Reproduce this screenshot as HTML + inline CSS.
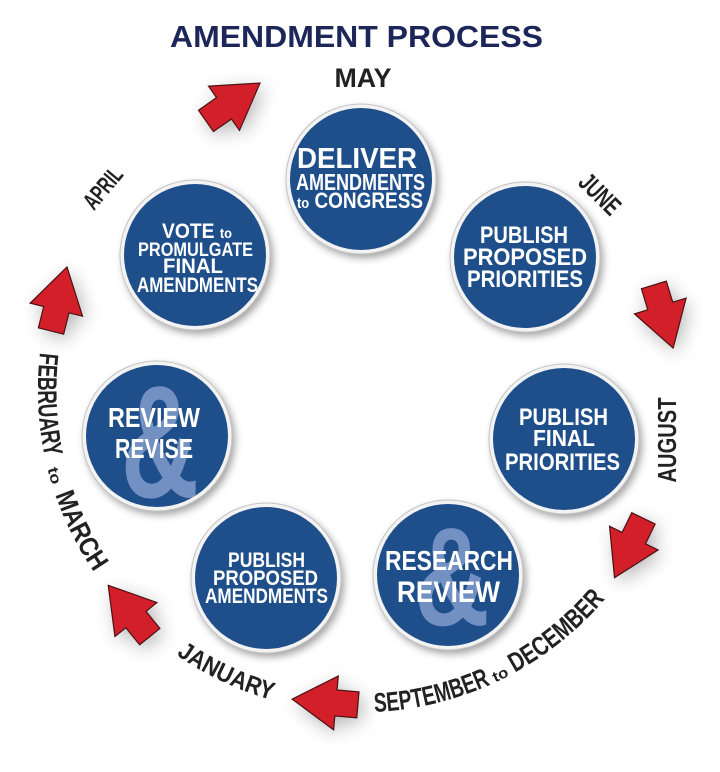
<!DOCTYPE html>
<html><head><meta charset="utf-8"><style>
html,body{margin:0;padding:0;background:#fff;}
svg{display:block;}
text{font-family:"Liberation Sans",sans-serif;font-weight:bold;}
</style></head><body>
<svg width="720" height="772" viewBox="0 0 720 772" xmlns="http://www.w3.org/2000/svg">
<defs>
  <filter id="ash" x="-100%" y="-100%" width="300%" height="300%"><feGaussianBlur stdDeviation="9"/></filter>
  <filter id="csh" x="-30%" y="-30%" width="160%" height="160%"><feGaussianBlur stdDeviation="4"/></filter>
  <path id="arc" d="M68.2,253.9 A322,322 0 1 0 671.0,473.3" fill="none"/>
  <path id="arr" d="M0,-33 L27,11 L13,11 L13,33 L-13,33 L-13,11 L-27,11 Z"/>
  <clipPath id="clipA"><circle cx="157" cy="436" r="71"/></clipPath>
  <clipPath id="clipB"><circle cx="448" cy="575" r="71"/></clipPath>
</defs>
<rect width="720" height="772" fill="#fff"/>

<!-- Title -->
<text x="356.5" y="47" font-size="31" fill="#1c2659" text-anchor="middle" textLength="373" lengthAdjust="spacingAndGlyphs">AMENDMENT PROCESS</text>

<!-- Arrow shadows -->
<g fill="#7a7a7a" opacity="0.55" filter="url(#ash)">
  <use href="#arr" transform="translate(237,107) rotate(55)"/>
  <use href="#arr" transform="translate(63,304) rotate(14)"/>
  <use href="#arr" transform="translate(133,616) rotate(-39)"/>
  <use href="#arr" transform="translate(329,707) rotate(-85)"/>
  <use href="#arr" transform="translate(633,553) rotate(-154)"/>
  <use href="#arr" transform="translate(667,321) rotate(163)"/>
</g>

<!-- Circle shadows -->
<g fill="#555" opacity="0.55" filter="url(#csh)">
  <circle cx="364" cy="183" r="75"/>
  <circle cx="198" cy="259" r="75"/>
  <circle cx="160" cy="440" r="75"/>
  <circle cx="269" cy="582" r="75"/>
  <circle cx="451" cy="579" r="75"/>
  <circle cx="567" cy="443" r="75"/>
  <circle cx="528" cy="261" r="75"/>
</g>

<!-- Circles -->
<g stroke="#c4c4c4" stroke-width="1" fill="#f3f3f3">
  <circle cx="361" cy="179" r="75"/>
  <circle cx="195" cy="255" r="75"/>
  <circle cx="157" cy="436" r="75"/>
  <circle cx="266" cy="578" r="75"/>
  <circle cx="448" cy="575" r="75"/>
  <circle cx="564" cy="439" r="75"/>
  <circle cx="525" cy="257" r="75"/>
</g>
<g fill="#1f4f8b">
  <circle cx="361" cy="179" r="71"/>
  <circle cx="195" cy="255" r="71"/>
  <circle cx="157" cy="436" r="71"/>
  <circle cx="266" cy="578" r="71"/>
  <circle cx="448" cy="575" r="71"/>
  <circle cx="564" cy="439" r="71"/>
  <circle cx="525" cy="257" r="71"/>
</g>

<!-- Ampersand watermarks -->
<g clip-path="url(#clipA)"><text x="160" y="497" font-size="160" fill="#7390c2" text-anchor="middle" textLength="78" lengthAdjust="spacingAndGlyphs">&amp;</text></g>
<g clip-path="url(#clipB)"><text x="452" y="625" font-size="140" fill="#7390c2" text-anchor="middle" textLength="75" lengthAdjust="spacingAndGlyphs">&amp;</text></g>

<!-- Circle labels -->
<g fill="#ffffff" text-anchor="middle">
  <text x="357" y="168" font-size="29" textLength="120" lengthAdjust="spacingAndGlyphs">DELIVER</text>
  <text x="360.5" y="190" font-size="23" textLength="129" lengthAdjust="spacingAndGlyphs">AMENDMENTS</text>
  <text x="360" y="208" font-size="22" textLength="126" lengthAdjust="spacingAndGlyphs"><tspan font-size="15">to</tspan> CONGRESS</text>

  <text x="197" y="238" font-size="21" textLength="70" lengthAdjust="spacingAndGlyphs">VOTE <tspan font-size="14">to</tspan></text>
  <text x="195.5" y="256" font-size="19" textLength="115" lengthAdjust="spacingAndGlyphs">PROMULGATE</text>
  <text x="193" y="273" font-size="21" textLength="60" lengthAdjust="spacingAndGlyphs">FINAL</text>
  <text x="197.5" y="292" font-size="21" textLength="121" lengthAdjust="spacingAndGlyphs">AMENDMENTS</text>

  <text x="154" y="427" font-size="28" textLength="92" lengthAdjust="spacingAndGlyphs">REVIEW</text>
  <text x="154" y="458" font-size="28" textLength="78" lengthAdjust="spacingAndGlyphs">REVISE</text>

  <text x="266.5" y="567" font-size="21" textLength="77" lengthAdjust="spacingAndGlyphs">PUBLISH</text>
  <text x="265.5" y="585" font-size="21" textLength="105" lengthAdjust="spacingAndGlyphs">PROPOSED</text>
  <text x="266.5" y="603" font-size="21" textLength="123" lengthAdjust="spacingAndGlyphs">AMENDMENTS</text>

  <text x="449" y="570" font-size="28" textLength="128" lengthAdjust="spacingAndGlyphs">RESEARCH</text>
  <text x="448.5" y="602" font-size="30" textLength="103" lengthAdjust="spacingAndGlyphs">REVIEW</text>

  <text x="563.5" y="425" font-size="24" textLength="89" lengthAdjust="spacingAndGlyphs">PUBLISH</text>
  <text x="564" y="446" font-size="23" textLength="62" lengthAdjust="spacingAndGlyphs">FINAL</text>
  <text x="562.5" y="470" font-size="24" textLength="115" lengthAdjust="spacingAndGlyphs">PRIORITIES</text>

  <text x="524" y="243" font-size="24" textLength="88" lengthAdjust="spacingAndGlyphs">PUBLISH</text>
  <text x="525" y="265" font-size="24" textLength="124" lengthAdjust="spacingAndGlyphs">PROPOSED</text>
  <text x="525" y="287" font-size="24" textLength="116" lengthAdjust="spacingAndGlyphs">PRIORITIES</text>
</g>

<!-- Arrows -->
<g fill="#d21f29" stroke="#4a1212" stroke-width="1.2" stroke-linejoin="miter">
  <use href="#arr" transform="translate(233,102) rotate(55)"/>
  <use href="#arr" transform="translate(59,299) rotate(14)"/>
  <use href="#arr" transform="translate(129,611) rotate(-39)"/>
  <use href="#arr" transform="translate(325,702) rotate(-85)"/>
  <use href="#arr" transform="translate(629,548) rotate(-154)"/>
  <use href="#arr" transform="translate(663.5,316.5) rotate(163)"/>
</g>

<!-- Month labels -->
<g fill="#222">
  <text x="363" y="87" font-size="27" text-anchor="middle" textLength="57" lengthAdjust="spacingAndGlyphs">MAY</text>
  <text transform="translate(600,194) rotate(45)" x="0" y="9" font-size="26" text-anchor="middle" textLength="47" lengthAdjust="spacingAndGlyphs">JUNE</text>
  <text transform="translate(667,440) rotate(-90)" x="0" y="9" font-size="26" text-anchor="middle" textLength="85" lengthAdjust="spacingAndGlyphs">AUGUST</text>
  <text transform="translate(103,188) rotate(-50)" x="0" y="8" font-size="24" text-anchor="middle" textLength="47" lengthAdjust="spacingAndGlyphs">APRIL</text>

  <text font-size="27"><textPath href="#arc" startOffset="103" textLength="105" lengthAdjust="spacingAndGlyphs">FEBRUARY</textPath></text>
  <text font-size="15"><textPath href="#arc" startOffset="220" textLength="17" lengthAdjust="spacingAndGlyphs">to</textPath></text>
  <text font-size="27"><textPath href="#arc" startOffset="247" textLength="87" lengthAdjust="spacingAndGlyphs">MARCH</textPath></text>

  <text font-size="25"><textPath href="#arc" startOffset="451" textLength="106" lengthAdjust="spacingAndGlyphs">JANUARY</textPath></text>

  <text font-size="27"><textPath href="#arc" startOffset="661" textLength="120" lengthAdjust="spacingAndGlyphs">SEPTEMBER</textPath></text>
  <text font-size="15"><textPath href="#arc" startOffset="786" textLength="16" lengthAdjust="spacingAndGlyphs">to</textPath></text>
  <text font-size="27"><textPath href="#arc" startOffset="808" textLength="117" lengthAdjust="spacingAndGlyphs">DECEMBER</textPath></text>
</g>
</svg>
</body></html>
